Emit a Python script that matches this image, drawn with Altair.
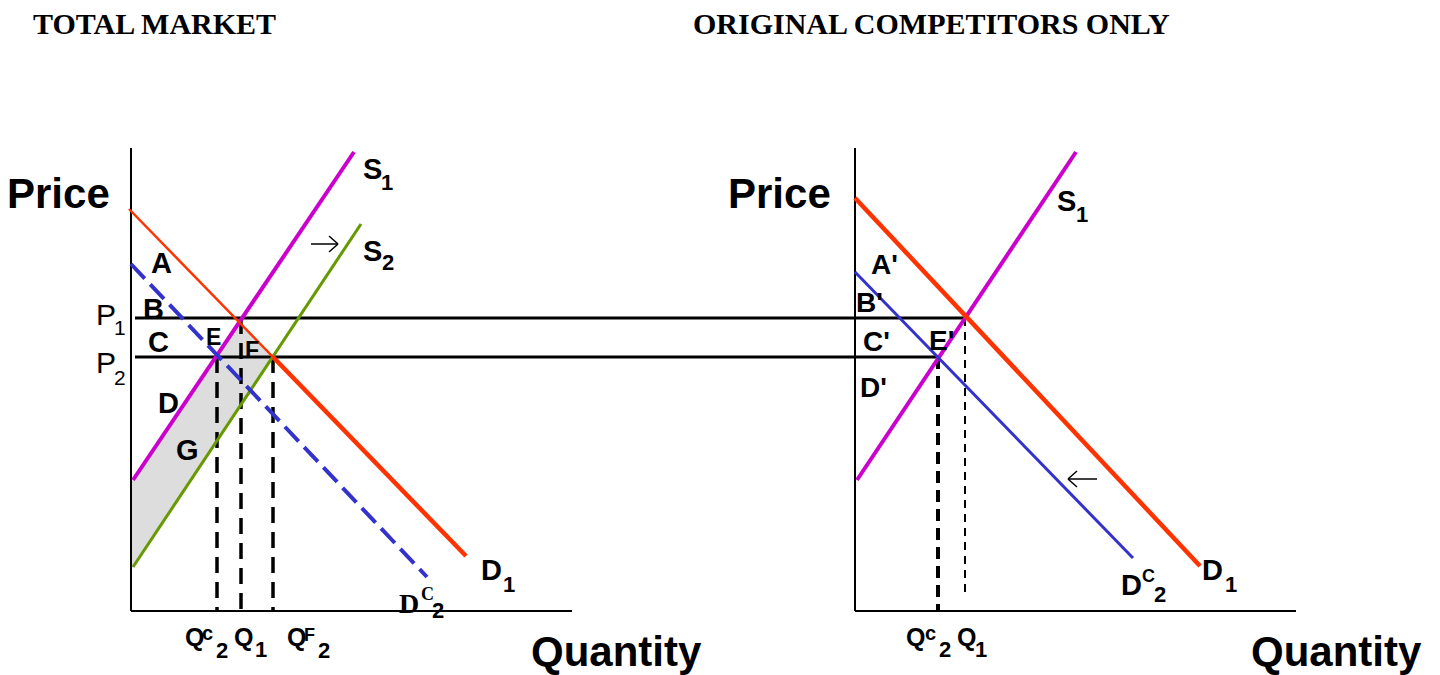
import altair as alt
import pandas as pd

# ------------------------------------------------------------------
# Diagram values (units calibrated to the drawing: x = quantity position,
# y = price position, larger y drawn lower on the page)
# ------------------------------------------------------------------

# Supply / demand curves: start and end points
curve_ids = ["S1_total", "S2_total", "D1_total_upper", "D1_total_lower", "DC2_total",
             "S1_orig", "D1_orig", "DC2_orig"]
curve_q0 = [133, 133, 129, 273, 131, 857, 855, 855]
curve_p0 = [480, 567, 209, 357, 264, 480, 198, 272]
curve_q1 = [354, 361, 273, 466, 427, 1076, 1200, 1133]
curve_p1 = [152, 224, 357, 556, 577, 152, 566, 558]

# Price levels P1, P2 (run across both panels)
price_ids = ["P1", "P2"]
price_level = [318, 357]
price_q_start = [135, 135]
price_q_end = [965, 938]

# Quantity drop lines
qline_ids = ["Qc2_total", "Q1_total", "QF2_total", "Qc2_orig", "Q1_orig"]
qline_q = [217, 241, 273, 938, 965]
qline_top = [357, 318, 357, 357, 318]
qline_bottom = [611, 609, 611, 611, 597]

# Axes
axis_ids = ["total_y", "total_x", "orig_y", "orig_x"]
axis_q0 = [131, 131, 855, 855]
axis_p0 = [148, 611, 148, 611]
axis_q1 = [131, 572, 855, 1296]
axis_p1 = [611, 611, 611, 611]

# Shaded region (between S1 / D1 above and S2 below)
shade_q = [132, 239, 273]
shade_upper = [481, 322, 357]
shade_lower = [568, 407, 357]

# Shift arrows
arrow_ids = ["supply_shift", "demand_shift"]
arrow_tail = [311, 1097]
arrow_tip = [338, 1068]
arrow_p = [244, 479]

# Text labels: (text, x, y)
titles = [("TOTAL MARKET", 33, 34), ("ORIGINAL COMPETITORS ONLY", 693, 34)]
axis_titles = [("Price", 7, 208), ("Price", 728, 208),
               ("Quantity", 531, 666), ("Quantity", 1251, 666)]
region_labels_total = [("A", 151, 273), ("B", 143, 319), ("C", 148, 352),
                       ("D", 158, 413), ("G", 176, 460)]
region_labels_orig = [("A'", 871, 274), ("B'", 856, 312), ("C'", 863, 351),
                      ("E'", 929, 350), ("D'", 860, 397)]
small_labels = [("E", 206, 345), ("F", 245, 358)]
curve_labels = [("S", 363, 179), ("S", 363, 261), ("D", 481, 580),
                ("S", 1057, 211), ("D", 1202, 580), ("D", 1121, 595)]
sub_labels = [("1", 381, 190), ("2", 382, 270), ("1", 503, 592),
              ("1", 1076, 222), ("1", 1225, 592), ("2", 1154, 602), ("2", 432, 618),
              ("2", 216, 658), ("1", 255, 657), ("2", 318, 658),
              ("2", 939, 657), ("1", 975, 657)]
sup_c_labels = [("c", 202, 640), ("c", 925, 640)]
sup_cap_labels = [("F", 304, 641), ("C", 1142, 582)]
tick_q_labels = [("Q", 185, 646), ("Q", 234, 646), ("Q", 287, 646),
                 ("Q", 906, 646), ("Q", 957, 646)]
serif_d_labels = [("D", 399, 613)]
serif_sup_labels = [("C", 421, 600)]
price_p_labels = [("P", 96, 325), ("P", 96, 373)]
price_sub_labels = [("1", 114, 335), ("2", 114, 385)]

# ------------------------------------------------------------------
# Styles
# ------------------------------------------------------------------
MAGENTA, RED, GREEN, BLUE = "#CC00CC", "#FF3300", "#669900", "#3333CC"
CURVE_STYLE = {
    "S1_total": (MAGENTA, 4, None),
    "S2_total": (GREEN, 3, None),
    "D1_total_upper": (RED, 2.5, None),
    "D1_total_lower": (RED, 4.5, None),
    "DC2_total": (BLUE, 4, [20, 8]),
    "S1_orig": (MAGENTA, 4, None),
    "D1_orig": (RED, 4.5, None),
    "DC2_orig": (BLUE, 3, None),
}
QLINE_STYLE = {
    "Qc2_total": (3.5, [16, 9]),
    "Q1_total": (3.5, [16, 9]),
    "QF2_total": (3.5, [16, 9]),
    "Qc2_orig": (4, [12, 7]),
    "Q1_orig": (2, [8, 6]),
}

W, H = 1424, 667
XS = alt.Scale(domain=[8, 8 + W], nice=False, zero=False)
YS = alt.Scale(domain=[8, 8 + H], reverse=True, nice=False, zero=False)


def seg_layer(df, color, width, dash=None):
    kw = dict(color=color, strokeWidth=width, strokeCap="butt")
    if dash:
        kw["strokeDash"] = dash
    return alt.Chart(df).mark_rule(**kw).encode(
        x=alt.X("q0:Q", scale=XS, axis=None),
        y=alt.Y("p0:Q", scale=YS, axis=None),
        x2="q1:Q",
        y2="p1:Q",
    )


def text_layer(rows, size, font="Liberation Sans", weight="bold"):
    df = pd.DataFrame(rows, columns=["t", "x", "y"])
    return alt.Chart(df).mark_text(
        align="left", baseline="alphabetic", font=font, fontWeight=weight,
        fontSize=size, color="black"
    ).encode(
        x=alt.X("x:Q", scale=XS, axis=None),
        y=alt.Y("y:Q", scale=YS, axis=None),
        text="t:N",
    )


layers = []

# shaded area
shade_df = pd.DataFrame({"q": shade_q, "up": shade_upper, "lo": shade_lower})
layers.append(
    alt.Chart(shade_df).mark_area(color="#DDDDDD", orient="vertical", opacity=1).encode(
        x=alt.X("q:Q", scale=XS, axis=None),
        y=alt.Y("up:Q", scale=YS, axis=None),
        y2="lo:Q",
    )
)

# axes
axis_df = pd.DataFrame({"id": axis_ids, "q0": axis_q0, "p0": axis_p0,
                        "q1": axis_q1, "p1": axis_p1})
layers.append(seg_layer(axis_df, "black", 2))

# price levels
price_df = pd.DataFrame({"id": price_ids, "q0": price_q_start, "p0": price_level,
                         "q1": price_q_end, "p1": price_level})
layers.append(seg_layer(price_df, "black", 3))

# quantity drop lines
for i, qid in enumerate(qline_ids):
    w, d = QLINE_STYLE[qid]
    df = pd.DataFrame({"q0": [qline_q[i]], "p0": [qline_top[i]],
                       "q1": [qline_q[i]], "p1": [qline_bottom[i]]})
    layers.append(seg_layer(df, "black", w, d))

# curves
for i, cid in enumerate(curve_ids):
    c, w, d = CURVE_STYLE[cid]
    df = pd.DataFrame({"q0": [curve_q0[i]], "p0": [curve_p0[i]],
                       "q1": [curve_q1[i]], "p1": [curve_p1[i]]})
    layers.append(seg_layer(df, c, w, d))

# arrows (shaft + open head)
HEAD_L, HEAD_H = 9, 8
rows = []
for i in range(len(arrow_ids)):
    tail, tip, p = arrow_tail[i], arrow_tip[i], arrow_p[i]
    direction = 1 if tip > tail else -1
    rows.append((tail, p, tip, p))
    rows.append((tip, p, tip - direction * HEAD_L, p - HEAD_H))
    rows.append((tip, p, tip - direction * HEAD_L, p + HEAD_H))
arrow_df = pd.DataFrame(rows, columns=["q0", "p0", "q1", "p1"])
layers.append(seg_layer(arrow_df, "black", 1.5))

# text
layers += [
    text_layer(titles, 30, font="Liberation Serif"),
    text_layer(axis_titles, 42),
    text_layer(region_labels_total, 29),
    text_layer(region_labels_orig, 28),
    text_layer(small_labels, 23),
    text_layer(curve_labels, 29),
    text_layer(sub_labels, 22),
    text_layer(sup_c_labels, 20),
    text_layer(sup_cap_labels, 18),
    text_layer(tick_q_labels, 25),
    text_layer(serif_d_labels, 28, font="Liberation Serif"),
    text_layer(serif_sup_labels, 18, font="Liberation Serif"),
    text_layer(price_p_labels, 30, weight="normal"),
    text_layer(price_sub_labels, 21, weight="normal"),
]

chart = alt.layer(*layers).properties(
    width=W, height=H, padding=0, autosize=alt.AutoSizeParams(type="none"),
    background="white",
).configure_view(stroke=None)

chart.save("out.html", embed_options={"renderer": "svg", "actions": False})
